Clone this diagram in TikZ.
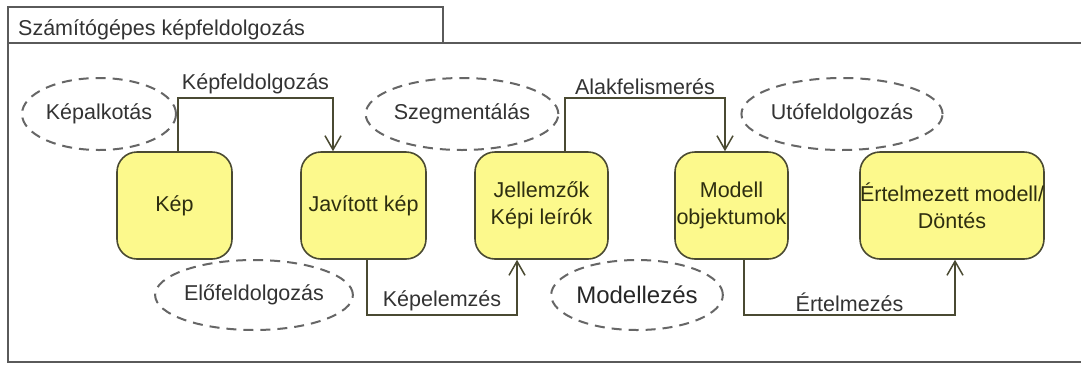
\documentclass[tikz,border=0pt]{standalone}
\usepackage{fontspec}
\setmainfont{Liberation Sans}
\usetikzlibrary{shapes.geometric,arrows.meta}
\definecolor{boxfill}{HTML}{FCF98C}
\definecolor{boxline}{HTML}{4A4A32}
\definecolor{txt}{HTML}{333333}
\definecolor{boxtxt}{HTML}{2E2E10}
\definecolor{dashcol}{HTML}{666666}
\definecolor{framecol}{HTML}{5A5A5A}
\tikzset{
  stage/.style={draw=boxline, line width=1.6pt, fill=boxfill, rounded corners=20pt,
    minimum height=107pt, align=center, text=boxtxt, inner sep=0pt},
  phase/.style={ellipse, draw=dashcol, line width=2pt, dash pattern=on 10pt off 7pt,
    text=txt, inner sep=0pt},
  conn/.style={draw=boxline, line width=1.5pt, -{Straight Barb[length=14pt,width=16pt,line width=1.5pt]}},
  lab/.style={text=txt, inner sep=3pt},
  frame/.style={draw=framecol, line width=1.6pt}
}
\begin{document}
\begin{tikzpicture}[x=1pt,y=-1pt, font=\fontsize{21.5}{26}\selectfont]
\useasboundingbox[fill=white] (0,0) rectangle (1081,365);
% frame
\draw[frame] (8,7) rectangle (443,43);
\draw[frame] (1090,43) -- (8,43) -- (8,362) -- (1090,362);
\node[anchor=base west, text=txt, inner sep=0pt] (title) at (18,35) {Számítógépes képfeldolgozás};
% stages
\node[stage, minimum width=115pt] (kep) at (174.5,205.5) {Kép};
\node[stage, minimum width=125pt] (jav) at (363.5,205.5) {Javított kép};
\node[stage, minimum width=133pt] (jel) at (541.5,205.5) {Jellemzők\\[1pt]Képi leírók};
\node[stage, minimum width=113pt] (mod) at (731.5,205.5) {Modell\\[1pt]objektumok};
\node[stage, minimum width=180pt] (ert) at (952,205.5) {Értelmezett modell/\\[1pt]Döntés};
% phases
\node[phase, minimum width=154pt, minimum height=72pt] (e1) at (99,114) {Képalkotás};
\node[phase, minimum width=168pt, minimum height=72pt] (e2) at (462,114) {Szegmentálás};
\node[phase, minimum width=180pt, minimum height=72pt] (e3) at (842,114) {Utófeldolgozás};
\node[phase, minimum width=164pt, minimum height=70pt] (e4) at (254,295) {Előfeldolgozás};
\node[phase, minimum width=148pt, minimum height=70pt, font=\fontsize{24}{28}\selectfont, text=black!85] (e5) at (637,295) {Modellezés};
% connectors
\coordinate (a1) at (178,98);  \coordinate (a2) at (333,98);
\draw[conn] (kep.north -| a1) -- (a1) -- node[lab, above] (l1) {Képfeldolgozás} (a2) -- (jav.north -| a2);
\coordinate (b1) at (367,315); \coordinate (b2) at (517,315);
\draw[conn] (jav.south -| b1) -- (b1) -- node[lab, above] (l2) {Képelemzés} (b2) -- (jel.south -| b2);
\coordinate (c1) at (565,98);  \coordinate (c2) at (725,98);
\draw[conn] (jel.north -| c1) -- (c1) -- node[lab, above] (l3) {Alakfelismerés} (c2) -- (mod.north -| c2);
\coordinate (d1) at (744,315); \coordinate (d2) at (955,315);
\draw[conn] (mod.south -| d1) -- (d1) -- node[lab, above] (l4) {Értelmezés} (d2) -- (ert.south -| d2);
\end{tikzpicture}
\end{document}
